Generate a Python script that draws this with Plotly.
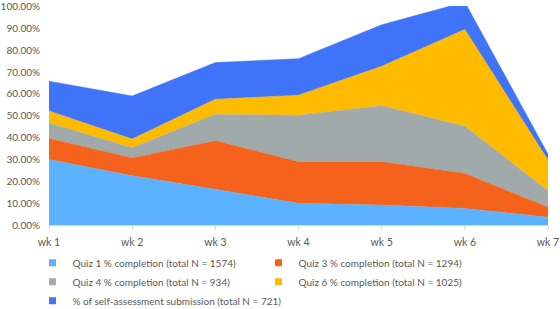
import plotly.graph_objects as go

weeks = ["wk 1", "wk 2", "wk 3", "wk 4", "wk 5", "wk 6", "wk 7"]
quiz1 = [0.300, 0.225, 0.163, 0.099, 0.091, 0.076, 0.035]
quiz3 = [0.096, 0.082, 0.222, 0.190, 0.198, 0.160, 0.046]
quiz4 = [0.071, 0.046, 0.122, 0.213, 0.257, 0.216, 0.076]
quiz6 = [0.055, 0.040, 0.068, 0.092, 0.180, 0.443, 0.140]
selfassess = [0.136, 0.197, 0.168, 0.167, 0.190, 0.125, 0.027]

names = [
    "Quiz 1 % completion (total N = 1574)",
    "Quiz 3 % completion (total N = 1294)",
    "Quiz 4 % completion (total N = 934)",
    "Quiz 6 % completion (total N = 1025)",
    "% of self-assessment submission (total N = 721)",
]
series = [quiz1, quiz3, quiz4, quiz6, selfassess]
colors = ["#5BB3FF", "#F5621B", "#A0AAAA", "#FFBB00", "#3F74F9"]

fig = go.Figure()
for nm, vals, col in zip(names, series, colors):
    fig.add_trace(go.Scatter(
        x=weeks, y=vals, name=nm, stackgroup="one", mode="lines",
        line=dict(color=col, width=0.5), fillcolor=col, showlegend=False,
        hoverinfo="skip",
    ))
# legend entries with square symbols
for nm, col in zip(names, colors):
    fig.add_trace(go.Scatter(
        x=[None], y=[None], name=nm, mode="markers",
        marker=dict(symbol="square", size=7, color=col), showlegend=True,
    ))

fig.update_layout(
    width=560, height=309,
    margin=dict(l=49, r=12, t=6, b=84),
    paper_bgcolor="white", plot_bgcolor="white",
    font=dict(family="Lato, Open Sans, sans-serif", size=10, color="#595959"),
    showlegend=True,
    legend=dict(
        orientation="h", x=0.058, xanchor="left", xref="container",
        y=0.197, yanchor="top", yref="container",
        entrywidth=181, entrywidthmode="pixels", traceorder="normal",
        font=dict(size=10, color="#595959"),
        tracegroupgap=0, bgcolor="rgba(0,0,0,0)",
    ),
    xaxis=dict(
        type="category", range=[0, 6], showgrid=False, zeroline=False,
        showline=True, linecolor="#D9D9D9", linewidth=1,
        ticks="outside", tickcolor="#D9D9D9", ticklen=4,
        tickfont=dict(size=10.5, color="#595959"), ticklabeloverflow="allow",
        ticklabelstandoff=3, automargin=False,
    ),
    yaxis=dict(
        range=[0, 1.002], tick0=0, dtick=0.1, tickformat=".2%", showgrid=False,
        zeroline=False, showline=False, ticks="", ticklabelstandoff=8,
        tickfont=dict(size=10, color="#595959"), ticklabeloverflow="allow",
        automargin=False,
    ),
)

fig.write_html(
    "out.html",
    config={"displayModeBar": False},
    post_script="document.body.style.margin='0';document.body.style.overflow='hidden';",
)
